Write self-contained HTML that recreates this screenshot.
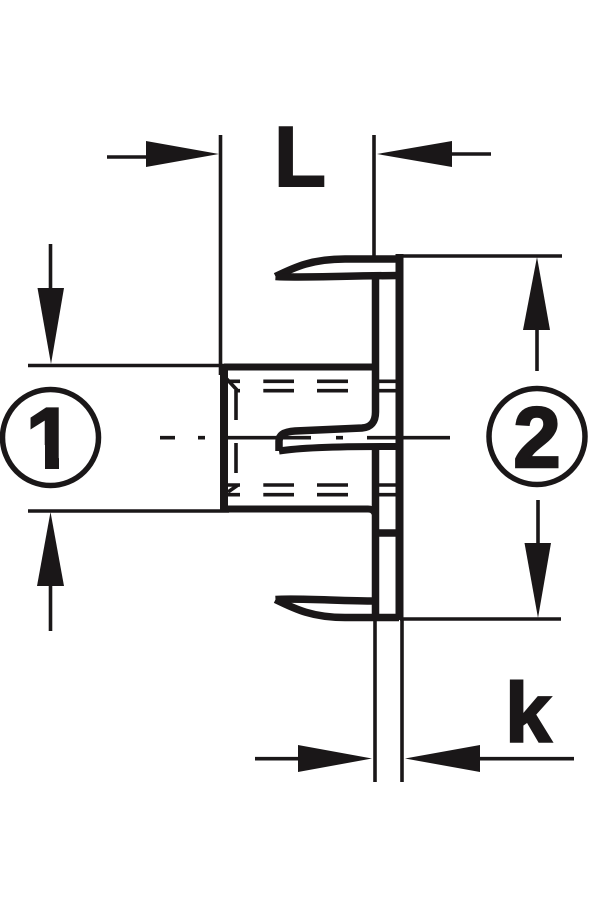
<!DOCTYPE html>
<html>
<head>
<meta charset="utf-8">
<style>
html,body{margin:0;padding:0;background:#fff;}
svg{display:block;}
text{font-family:"Liberation Sans",sans-serif;font-weight:700;fill:#1a1718;stroke:#1a1718;stroke-linejoin:miter;}
</style>
</head>
<body>
<svg width="600" height="900" viewBox="0 0 600 900" xmlns="http://www.w3.org/2000/svg">
<rect width="600" height="900" fill="#fff"/>
<g fill="#1a1718" stroke="none">
<polygon points="146,141 219,154 146,167"/>
<polygon points="452,141 377,154 452,167"/>
<polygon points="37.5,288 64,288 51,364"/>
<polygon points="37,586 64,586 50.5,512"/>
<polygon points="523,330 550,330 537,257"/>
<polygon points="524.5,543 551,543 538,618"/>
<polygon points="298,745 372,758.5 298,772"/>
<polygon points="480,745 405,758.5 480,772"/>
</g>
<g stroke="#1a1718" fill="none" stroke-width="3.6">
<path d="M220.5 135V375"/>
<path d="M374 135V258"/>
<path d="M107 157H147"/>
<path d="M452 154H491"/>
<path d="M50.5 244V290"/>
<path d="M50.5 586V631"/>
<path d="M28 365.5H224"/>
<path d="M28 511H229"/>
<path d="M400 256H562"/>
<path d="M400 619H561"/>
<path d="M537 330V371"/>
<path d="M538 500V544"/>
<path d="M375 619V782"/>
<path d="M402 619V782"/>
<path d="M255 758.7H298"/>
<path d="M480 758.7H574"/>
<path d="M160 437.7H175M198 437.7H205M227 437.7H311M336 437.7H343M367 437.7H450"/>
<path d="M236 390V420M236 443V473"/>
<path d="M224 376L237 390M228 492L238 485"/>
<path d="M227 381.3H240M263.3 381.3H294M317 381.3H348M379 381.3H396M236 390.7H240M263.3 390.7H294M317 390.7H348M379 390.7H396"/>
<path d="M227 485H240M263.3 485H294M317 485H348M379 485H396M227 494.7H240M263.3 494.7H294M317 494.7H348M379 494.7H396"/>
</g>
<g stroke="#1a1718" fill="none" stroke-width="7" stroke-linejoin="round">
<path d="M224 365V512" stroke-width="8"/>
<path d="M224 367H372"/>
<path d="M224 509H368Q374 509 375 514"/>
<path d="M399.5 254V620" stroke-width="8"/>
<path d="M275.5 276.5C295 267 312 259 345 259H399" stroke-width="7.5"/>
<path d="M275.5 276.5C300 278 340 276 398 275.5" stroke-width="7.5"/>
<path d="M375.5 275V412Q375.5 427 362 428L295 431Q279 432 279 441V451" stroke-width="7.5"/>
<path d="M279 451Q310 446 398 446.5" stroke-width="7"/>
<path d="M375.5 447V619" stroke-width="7.5"/>
<path d="M376 533H399" stroke-width="7.5"/>
<path d="M275.5 599.5C295 609 312 617.5 345 617.5H399" stroke-width="7.5"/>
<path d="M275.5 599.5C300 598 340 601 376 601" stroke-width="7.5"/>
</g>
<text x="274" y="186" font-size="85" stroke-width="2">L</text>
<text x="505" y="742" font-size="84" stroke-width="2">k</text>
<text x="25.7" y="468" font-size="86" stroke-width="2.2">1</text>
<rect x="22" y="445" width="23" height="27" fill="#fff"/>
<rect x="59" y="445" width="20" height="27" fill="#fff"/>
<rect x="45" y="469" width="14" height="3" fill="#fff"/>
<text x="537" y="467" font-size="85" text-anchor="middle" stroke-width="2.5">2</text>
<circle cx="50.5" cy="437.5" r="48" fill="none" stroke="#1a1718" stroke-width="5.5"/>
<circle cx="537" cy="436.5" r="48" fill="none" stroke="#1a1718" stroke-width="5.5"/>
</svg>
</body>
</html>
